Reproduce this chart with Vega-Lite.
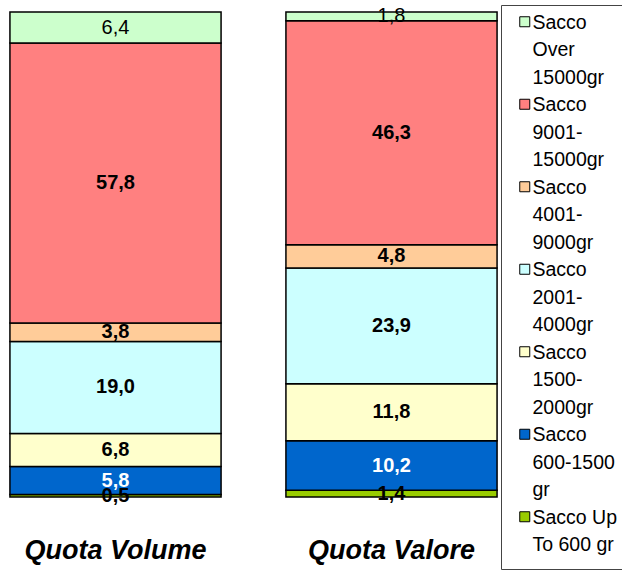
{
  "$schema": "https://vega.github.io/schema/vega-lite/v6.json",
  "width": 507,
  "height": 485,
  "autosize": "none",
  "padding": {"top": 12, "left": 0, "right": 115, "bottom": 79},
  "background": "white",
  "config": {
    "view": {"stroke": null},
    "locale": {"number": {"decimal": ",", "thousands": ".", "grouping": [3], "currency": ["", " €"]}},
    "style": {"guide-label": {"lineHeight": 27.5}}
  },
  "data": {
    "values": [
      {"quota": "Quota Volume", "size": "Sacco Up To 600 gr", "ord": 1, "value": 0.5},
      {"quota": "Quota Volume", "size": "Sacco 600-1500 gr", "ord": 2, "value": 5.8},
      {"quota": "Quota Volume", "size": "Sacco 1500-2000gr", "ord": 3, "value": 6.8},
      {"quota": "Quota Volume", "size": "Sacco 2001-4000gr", "ord": 4, "value": 19.0},
      {"quota": "Quota Volume", "size": "Sacco 4001-9000gr", "ord": 5, "value": 3.8},
      {"quota": "Quota Volume", "size": "Sacco 9001-15000gr", "ord": 6, "value": 57.8},
      {"quota": "Quota Volume", "size": "Sacco Over 15000gr", "ord": 7, "value": 6.4},
      {"quota": "Quota Valore", "size": "Sacco Up To 600 gr", "ord": 1, "value": 1.4},
      {"quota": "Quota Valore", "size": "Sacco 600-1500 gr", "ord": 2, "value": 10.2},
      {"quota": "Quota Valore", "size": "Sacco 1500-2000gr", "ord": 3, "value": 11.8},
      {"quota": "Quota Valore", "size": "Sacco 2001-4000gr", "ord": 4, "value": 23.9},
      {"quota": "Quota Valore", "size": "Sacco 4001-9000gr", "ord": 5, "value": 4.8},
      {"quota": "Quota Valore", "size": "Sacco 9001-15000gr", "ord": 6, "value": 46.3},
      {"quota": "Quota Valore", "size": "Sacco Over 15000gr", "ord": 7, "value": 1.8}
    ]
  },
  "encoding": {
    "x": {
      "field": "quota", "type": "nominal", "sort": ["Quota Volume", "Quota Valore"],
      "scale": {"paddingInner": 0.235, "paddingOuter": 0.036},
      "axis": {
        "title": null, "domain": false, "ticks": false, "labelAngle": 0,
        "labelFont": "Liberation Sans", "labelFontSize": 27, "labelFontWeight": "bold",
        "labelFontStyle": "italic", "labelColor": "#000", "labelPadding": 40, "labelLimit": 400
      }
    },
    "y": {
      "field": "value", "type": "quantitative", "stack": "normalize",
      "scale": {"domain": [0, 1], "nice": false}, "axis": null
    },
    "order": {"field": "ord", "type": "quantitative", "sort": "ascending"}
  },
  "layer": [
    {
      "mark": {"type": "bar", "stroke": "#000", "strokeWidth": 1.5},
      "encoding": {
        "color": {
          "field": "size", "type": "nominal",
          "scale": {
            "domain": ["Sacco Over 15000gr", "Sacco 9001-15000gr", "Sacco 4001-9000gr", "Sacco 2001-4000gr", "Sacco 1500-2000gr", "Sacco 600-1500 gr", "Sacco Up To 600 gr"],
            "range": ["#CCFFCC", "#FF8080", "#FFCC99", "#CCFFFF", "#FFFFCC", "#0066CC", "#99CC00"]
          },
          "legend": {
            "title": null, "orient": "none", "legendX": 501, "legendY": -7,
            "padding": 14, "strokeColor": "#444", "fillColor": "white",
            "symbolType": "M-1,-2.4H1V-0.4H-1Z", "symbolSize": 100, "symbolStrokeColor": "#000",
            "symbolStrokeWidth": 1, "symbolOpacity": 1,
            "labelFont": "Liberation Sans", "labelFontSize": 19.5, "labelColor": "#000",
            "labelOffset": -2, "labelLimit": 200, "rowPadding": 6.5, "labelBaseline": "alphabetic",
            "labelExpr": "datum.label == 'Sacco Over 15000gr' ? ['Sacco','Over','15000gr'] : datum.label == 'Sacco 9001-15000gr' ? ['Sacco','9001-','15000gr'] : datum.label == 'Sacco 4001-9000gr' ? ['Sacco','4001-','9000gr'] : datum.label == 'Sacco 2001-4000gr' ? ['Sacco','2001-','4000gr'] : datum.label == 'Sacco 1500-2000gr' ? ['Sacco','1500-','2000gr'] : datum.label == 'Sacco 600-1500 gr' ? ['Sacco','600-1500','gr'] : ['Sacco Up','To 600 gr']"
          }
        }
      }
    },
    {
      "mark": {"type": "text", "font": "Liberation Sans", "fontSize": 20, "fontWeight": "bold"},
      "encoding": {
        "y": {"field": "value", "type": "quantitative", "stack": "normalize", "bandPosition": 0.5},
        "text": {"field": "value", "type": "quantitative", "format": ".1f"},
        "color": {"condition": {"test": "datum.size == 'Sacco 600-1500 gr'", "value": "#FFFFFF"}, "value": "#000000"},
        "opacity": {"condition": {"test": "datum.size == 'Sacco Over 15000gr'", "value": 0}, "value": 1}
      }
    },
    {
      "mark": {"type": "text", "font": "Liberation Sans", "fontSize": 20, "fontWeight": "normal", "color": "#000"},
      "encoding": {
        "y": {"field": "value", "type": "quantitative", "stack": "normalize", "bandPosition": 0.5},
        "text": {"field": "value", "type": "quantitative", "format": ".1f"},
        "opacity": {"condition": {"test": "datum.size == 'Sacco Over 15000gr'", "value": 1}, "value": 0}
      }
    }
  ]
}
